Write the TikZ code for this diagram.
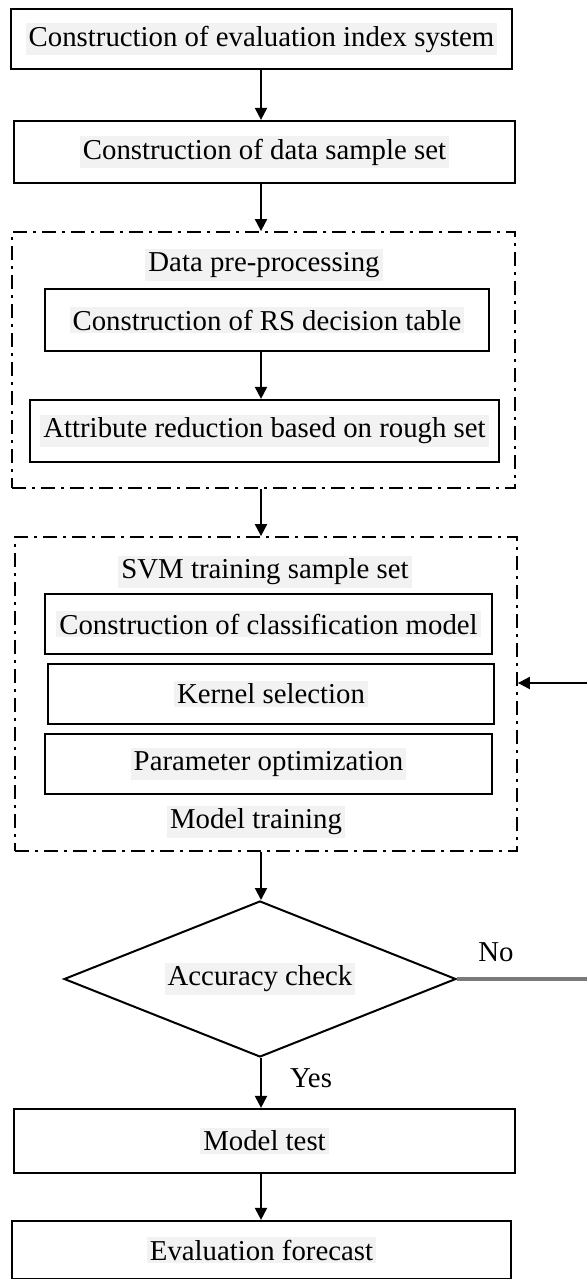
\documentclass[tikz,border=0pt]{standalone}
\usepackage{fontspec}
\setmainfont{Liberation Serif}
\usetikzlibrary{shapes.geometric,arrows.meta,calc}
\definecolor{hlgray}{HTML}{F2F2F2}
\definecolor{fbgray}{HTML}{7A7A7A}
\newcommand{\hlt}[1]{{\setlength{\fboxsep}{1.5pt}\colorbox{hlgray}{#1}}}
\begin{document}
\begin{tikzpicture}[x=0.5pt,y=-0.5pt,
  every node/.style={font=\fontsize{14.4}{17}\selectfont},
  procbox/.style={draw, line width=1.1pt, inner sep=0pt},
  groupbox/.style={draw, line width=0.9pt, inner sep=0pt, dash pattern=on 7pt off 3pt on 1.5pt off 3pt},
  decbox/.style={draw, diamond, line width=1pt, inner sep=0pt, aspect=2.51},
  arr/.style={line width=1pt, -{Triangle[length=6pt,width=6pt]}},
  fbline/.style={line width=1.6pt, draw=fbgray},
  plainlabel/.style={inner sep=0pt}
]
\useasboundingbox (0,0) rectangle (587,1279);
\clip (0,0) rectangle (587,1279);

% group containers
\node[groupbox, minimum width=251.5pt, minimum height=128pt] (d1) at (263.5,360) {};
\node[groupbox, minimum width=251pt, minimum height=157pt] (d2) at (266,694) {};

% process boxes
\node[procbox, minimum width=250.5pt, minimum height=30pt] (b1) at (261.5,39) {\hlt{Construction of evaluation index system}};
\node[procbox, minimum width=250.5pt, minimum height=31pt] (b2) at (264.5,152) {\hlt{Construction of data sample set}};
\node[procbox, minimum width=222pt, minimum height=31pt] (rs) at (267,320) {\hlt{Construction of RS decision table}};
\node[procbox, minimum width=234.5pt, minimum height=31pt] (attr) at (264.5,431) {\hlt{Attribute reduction based on rough set}};
\node[procbox, minimum width=223.5pt, minimum height=30pt] (cls) at (268.5,624) {\hlt{Construction of classification model}};
\node[procbox, minimum width=223pt, minimum height=30pt] (ker) at (271,694) {\hlt{Kernel selection}};
\node[procbox, minimum width=223.5pt, minimum height=30pt] (par) at (268.5,764) {\hlt{Parameter optimization}};
\node[decbox, minimum width=196pt, minimum height=78pt] (dia) at (260,979) {\hlt{Accuracy check}};
\node[procbox, minimum width=250.5pt, minimum height=32pt] (test) at (264.5,1141) {\hlt{Model test}};
\node[procbox, minimum width=249.5pt, minimum height=29pt] (eval) at (261.5,1250) {\hlt{Evaluation forecast}};

% group titles
\node[plainlabel] (t1) at (264,265) {\hlt{Data pre-processing}};
\node[plainlabel] (t2) at (265,572) {\hlt{SVM training sample set}};
\node[plainlabel] (t3) at (256,822) {\hlt{Model training}};

% branch labels
\node[plainlabel] (no) at (496,952) {No};
\node[plainlabel] (yes) at (311,1078) {Yes};

% connectors
\coordinate (ax) at (261,0);
\draw[arr] (ax |- b1.south) -- (ax |- b2.north);
\draw[arr] (ax |- b2.south) -- (ax |- d1.north);
\draw[arr] (ax |- rs.south) -- (ax |- attr.north);
\draw[arr] (ax |- d1.south) -- (ax |- d2.north);
\draw[arr] (ax |- d2.south) -- (ax |- dia.north);
\draw[arr] (ax |- dia.south) -- (ax |- test.north);
\draw[arr] (ax |- test.south) -- (ax |- eval.north);

% feedback loop
\coordinate (fbr) at (600,979);
\coordinate (fbt) at (600,683);
\draw[fbline] (dia.east) -- (fbr) -- (fbt);
\draw[arr] (fbt) -- (d2.east |- fbt);
\end{tikzpicture}
\end{document}
